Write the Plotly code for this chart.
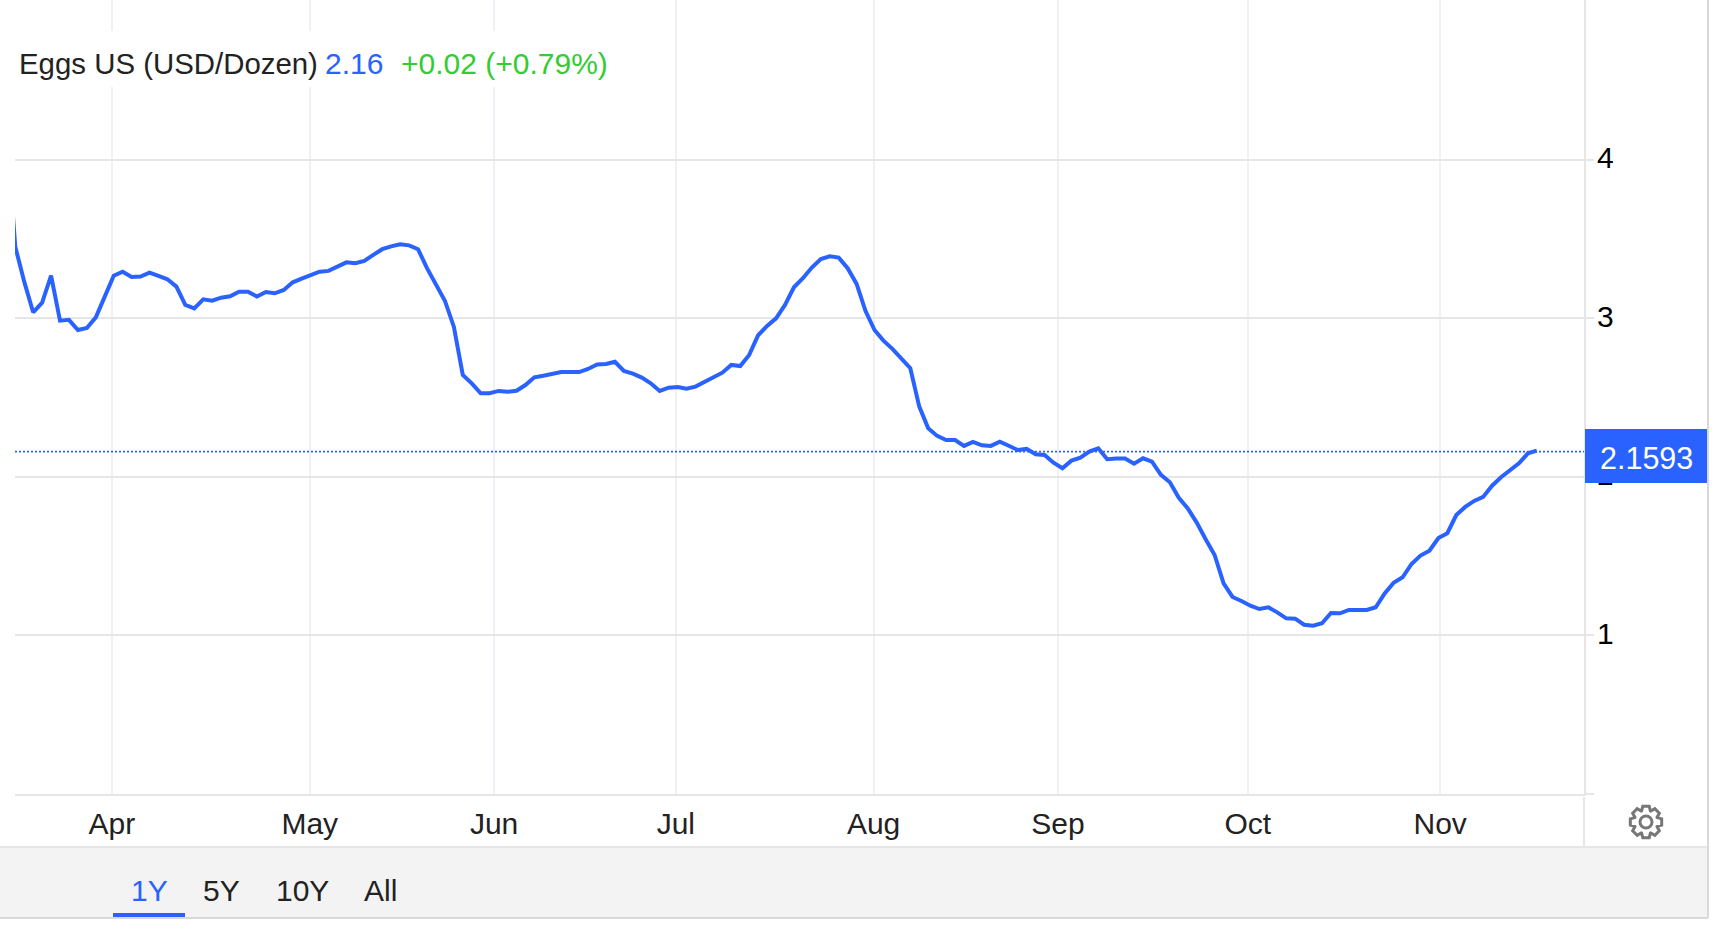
import math

import plotly.graph_objects as go

BLUE = "#2962ff"
GREEN = "#33cc33"
DARK = "#222222"
FONT = "Liberation Sans"

# one value per trading day
eggs_price = [
    4.20, 3.453, 3.232, 3.039, 3.100, 3.270, 2.986, 2.991, 2.927, 2.940, 3.007, 3.138, 3.270, 3.295,
    3.262, 3.264, 3.289, 3.268, 3.247, 3.201, 3.085, 3.064, 3.121, 3.112, 3.131, 3.140, 3.169, 3.169,
    3.138, 3.167, 3.159, 3.180, 3.228, 3.251, 3.274, 3.295, 3.300, 3.327, 3.354, 3.348, 3.363, 3.401,
    3.437, 3.455, 3.468, 3.461, 3.437, 3.317, 3.211, 3.112, 2.948, 2.644, 2.591, 2.528, 2.528, 2.543,
    2.538, 2.544, 2.580, 2.629, 2.639, 2.652, 2.662, 2.662, 2.662, 2.681, 2.709, 2.713, 2.727, 2.669,
    2.652, 2.627, 2.591, 2.543, 2.563, 2.568, 2.557, 2.570, 2.601, 2.627, 2.658, 2.707, 2.700, 2.770,
    2.894, 2.953, 3.001, 3.085, 3.197, 3.254, 3.321, 3.375, 3.392, 3.384, 3.317, 3.218, 3.047, 2.927,
    2.860, 2.808, 2.743, 2.686, 2.444, 2.307, 2.259, 2.233, 2.233, 2.196, 2.221, 2.200, 2.196, 2.223,
    2.197, 2.170, 2.177, 2.143, 2.139, 2.090, 2.055, 2.103, 2.122, 2.160, 2.181, 2.112, 2.116, 2.116,
    2.084, 2.118, 2.096, 2.013, 1.967, 1.869, 1.802, 1.712, 1.607, 1.508, 1.329, 1.243, 1.218, 1.188,
    1.167, 1.178, 1.146, 1.108, 1.106, 1.068, 1.062, 1.077, 1.142, 1.140, 1.161, 1.159, 1.161, 1.178,
    1.265, 1.333, 1.367, 1.451, 1.504, 1.535, 1.615, 1.645, 1.760, 1.811, 1.849, 1.874, 1.945, 1.998,
    2.044, 2.086, 2.149, 2.166,
]
# the axis is ordinal (trading days), first value sits just left of the visible range
trading_day = list(range(-1, len(eggs_price) - 1))

month_labels = ["Apr", "May", "Jun", "Jul", "Aug", "Sep", "Oct", "Nov"]
month_ticks = [10.8, 32.9, 53.5, 73.8, 95.9, 116.5, 137.7, 159.2]
price_ticks = [0, 1, 2, 3, 4]
price_labels = ["", "1", "2", "3", "4"]
last_price = 2.1593
range_tabs = ["1Y", "5Y", "10Y", "All"]
tab_centres = [149.5, 221, 302.5, 380]

# plot area in page pixels
LEFT, RIGHT, BOTTOM = 15, 1584, 794


def px(x):
    return (x - LEFT) / (RIGHT - LEFT)


def py(y):
    return (BOTTOM - y) / BOTTOM


def label(text, x, y, color=DARK, size=30, anchor="left", **kw):
    fig.add_annotation(text=text, xref="paper", yref="paper", x=px(x), y=py(y), xanchor=anchor,
                       yanchor="middle", showarrow=False, font=dict(family=FONT, size=size, color=color), **kw)


def box(x0, y0, x1, y1, **kw):
    fig.add_shape(type="rect", xref="paper", yref="paper", x0=px(x0), x1=px(x1), y0=py(y0), y1=py(y1),
                  layer="above", **kw)


def seg(x0, y0, x1, y1, color="#e6e6e6", width=2):
    fig.add_shape(type="line", xref="paper", yref="paper", x0=px(x0), x1=px(x1), y0=py(y0), y1=py(y1),
                  layer="above", line=dict(color=color, width=width))


def gear_path(cx, cy, r_out, r_in, teeth=8):
    pts = []
    step = 2 * math.pi / teeth
    for k in range(teeth):
        a = k * step - math.pi / 2
        for da, r in [(-0.30, r_in), (-0.16, r_out), (0.16, r_out), (0.30, r_in)]:
            pts.append((cx + r * math.cos(a + da * step * 1.6), cy + r * math.sin(a + da * step * 1.6)))
    return "M " + " L ".join(f"{px(x):.5f},{py(y):.5f}" for x, y in pts) + " Z"


fig = go.Figure()
fig.add_trace(go.Scatter(x=trading_day, y=eggs_price, mode="lines", hoverinfo="skip",
                         line=dict(color=BLUE, width=4)))

fig.update_layout(
    width=1718,
    height=930,
    margin=dict(l=LEFT, r=1718 - RIGHT, t=0, b=930 - BOTTOM),
    paper_bgcolor="white",
    plot_bgcolor="white",
    showlegend=False,
    font=dict(family=FONT, size=30, color=DARK),
    xaxis=dict(
        range=[-0.03, 175.27],
        tickvals=month_ticks,
        ticktext=month_labels,
        showgrid=True,
        gridcolor="#eef1f5",
        gridwidth=2,
        showline=True,
        linecolor="#e6e6e6",
        linewidth=2,
        zeroline=False,
        ticks="",
        ticklabelstandoff=2,
        tickfont=dict(family=FONT, size=30, color=DARK),
    ),
    yaxis=dict(
        side="right",
        range=[0, 5.009],
        tickvals=price_ticks,
        ticktext=price_labels,
        showgrid=True,
        gridcolor="#e6e6e6",
        gridwidth=2,
        showline=True,
        linecolor="#e6e6e6",
        linewidth=2,
        zeroline=False,
        ticks="outside",
        ticklen=8,
        tickwidth=2,
        tickcolor="#e6e6e6",
        ticklabelstandoff=-3,
        ticklabelshift=-2,
        tickfont=dict(family=FONT, size=30, color="black"),
    ),
)

# last value line
fig.add_shape(type="line", xref="paper", yref="y", x0=0, x1=1, y0=last_price, y1=last_price,
              layer="above", line=dict(color=BLUE, width=1.8, dash="2px,2px"))

# white strip behind the header hides the vertical grid
box(LEFT, 31, 630, 87, fillcolor="white", line_width=0)
label("Eggs US (USD/Dozen)", 17, 63, size=29.4)
label("2.16", 323, 63, color=BLUE)
label("+0.02 (+0.79%)", 399, 63, color=GREEN)

# footer and frame
box(0, 847, 1708, 918, fillcolor="#f3f3f3", line_width=0)
seg(0, 847, 1708, 847)
seg(0, 918, 1708, 918, color="#d9d9d9")
seg(1708, 0, 1708, 918, color="#d9d9d9")
seg(RIGHT, 797, RIGHT, 847)

for tab, centre, color in zip(range_tabs, tab_centres, [BLUE, DARK, DARK, DARK]):
    label(tab, centre, 890, color=color, anchor="center")
box(113, 913, 185, 917, fillcolor=BLUE, line_width=0)

# current price flag, sits over the "2" tick label
box(1585, 429, 1707, 483, fillcolor=BLUE, line_width=0)
label(f"{last_price:.4f}", 1646, 458, color="white", size=30.5, anchor="center")

# settings icon
fig.add_shape(type="path", xref="paper", yref="paper", path=gear_path(1646, 822, 16, 12), layer="above",
              line=dict(color="#777777", width=3))
fig.add_shape(type="circle", xref="paper", yref="paper", x0=px(1640), x1=px(1652), y0=py(828), y1=py(816),
              layer="above", line=dict(color="#777777", width=3))

# page margin off so the figure starts at the window corner
fig.write_html("out.html", config={"displayModeBar": False},
               post_script="document.body.style.margin = '0';")
